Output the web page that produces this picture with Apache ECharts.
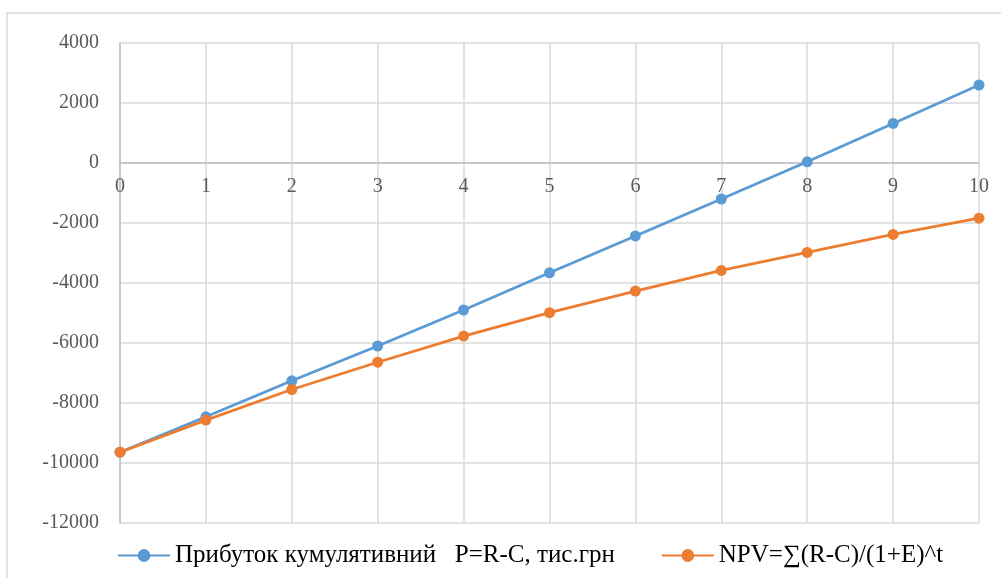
<!DOCTYPE html>
<html>
<head>
<meta charset="utf-8">
<script src="https://cdn.jsdelivr.net/npm/echarts@6/dist/echarts.min.js"></script>
<style>html,body{margin:0;padding:0;background:#fff}#c{width:1001px;height:578px}</style>
</head>
<body>
<div id="c"></div>
<script>
const years = [0, 1, 2, 3, 4, 5, 6, 7, 8, 9, 10];
const profitName = 'Прибуток кумулятивний   P=R-C, тис.грн';
const npvName = 'NPV=∑(R-C)/(1+E)^t';
const profit = [-9640, -8460, -7260, -6100, -4900, -3660, -2430, -1200, 40, 1320, 2600];
const npv = [-9640, -8570, -7550, -6640, -5770, -4990, -4270, -3580, -2980, -2380, -1840];
const yMin = -12000, yMax = 4000, yStep = 2000;

const chart = echarts.init(document.getElementById('c'), null, {renderer: 'canvas'});
const font = 'Liberation Serif';
const gridTop = 43, gridBottom = 55, H = 578;
const plotH = H - gridTop - gridBottom;
const zeroOffset = -plotH * (0 - yMin) / (yMax - yMin);
chart.setOption({
  animation: false,
  backgroundColor: '#fff',
  graphic: [{
    type: 'rect', shape: {x: 7, y: 13, width: 1010, height: 600},
    style: {fill: 'none', stroke: '#d9d9d9', lineWidth: 1.5}, silent: true, z: -1
  }],
  grid: {left: 120, top: gridTop, right: 22, bottom: gridBottom, containLabel: false},
  legend: {
    left: 112, top: 538,
    itemWidth: 52, itemHeight: 16, itemGap: 46,
    textStyle: {fontFamily: font, fontSize: 25, color: '#000'},
    data: [profitName, npvName]
  },
  xAxis: {
    type: 'value', min: 0, max: 10, interval: 1,
    offset: zeroOffset,
    axisLine: {onZero: false, lineStyle: {color: '#bfbfbf', width: 1.5}},
    axisTick: {show: false},
    axisLabel: {fontFamily: font, fontSize: 20, color: '#595959', margin: 14},
    splitLine: {show: true, lineStyle: {color: '#d9d9d9', width: 1.5}}
  },
  yAxis: {
    type: 'value', min: yMin, max: yMax, interval: yStep,
    axisLine: {show: true, lineStyle: {color: '#bfbfbf', width: 1.5}},
    axisTick: {show: false},
    axisLabel: {fontFamily: font, fontSize: 20, color: '#595959', margin: 21, formatter: v => String(v)},
    splitLine: {show: true, lineStyle: {color: '#d9d9d9', width: 1.5}}
  },
  series: [
    {
      name: profitName, type: 'line',
      data: years.map((x, i) => [x, profit[i]]),
      symbol: 'circle', symbolSize: 11,
      lineStyle: {color: '#5b9bd5', width: 2.75},
      itemStyle: {color: '#5b9bd5'}, z: 3
    },
    {
      name: npvName, type: 'line',
      data: years.map((x, i) => [x, npv[i]]),
      symbol: 'circle', symbolSize: 11,
      lineStyle: {color: '#ed7d31', width: 2.75},
      itemStyle: {color: '#ed7d31'}, z: 4
    }
  ]
});
</script>
</body>
</html>
